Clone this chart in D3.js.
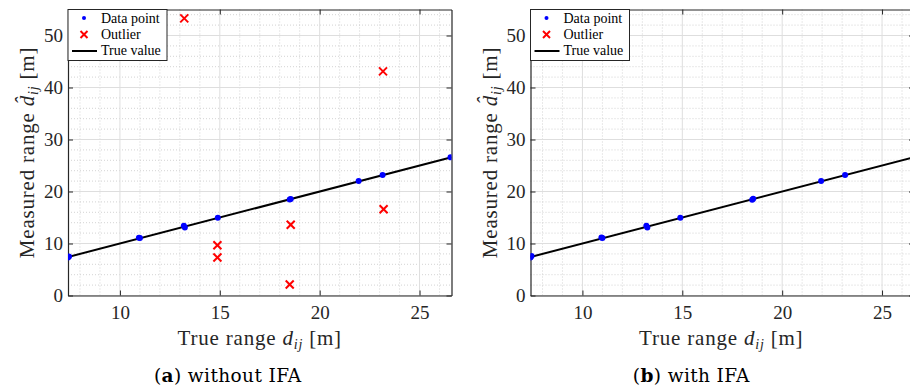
<!DOCTYPE html>
<html>
<head>
<script src="https://d3js.org/d3.v7.min.js"></script>
<style>
  body { margin: 0; background: #fff; }
  .tick-label { font-family: "Liberation Serif", serif; font-size: 19px; fill: #262626; }
  .axis-label { font-family: "Liberation Serif", serif; font-size: 21px; letter-spacing: 0.8px; fill: #262626; }
  .legend-text { font-family: "Liberation Serif", serif; font-size: 14px; fill: #000; }
  .caption { font-family: "DejaVu Serif", serif; font-size: 18.5px; letter-spacing: 0.4px; fill: #000; }
</style>
</head>
<body>
<div id="chart"></div>
<script>
// panel (a): without IFA
var inlierTrueA = [7.45, 7.40, 11.0, 10.95, 13.25, 13.2, 14.9, 18.5, 18.55, 21.95, 23.15, 26.55];
var inlierMeasA = [7.5, 7.3, 11.05, 11.1, 13.1, 13.4, 14.95, 18.45, 18.55, 22.0, 23.15, 26.6];
var outlierTrueA = [13.22, 23.17, 23.2, 18.55, 14.88, 14.88, 18.5];
var outlierMeasA = [53.3, 43.1, 16.6, 13.6, 9.65, 7.3, 2.1];

// panel (b): with IFA
var inlierTrueB = [7.45, 7.40, 11.0, 10.95, 13.25, 13.2, 14.9, 18.5, 18.55, 21.95, 23.15];
var inlierMeasB = [7.6, 7.3, 11.05, 11.15, 13.1, 13.4, 14.95, 18.4, 18.6, 22.0, 23.15];
var outlierTrueB = [];
var outlierMeasB = [];

var trueLine = [7.4, 26.6];
var xTicks = [10, 15, 20, 25];
var yTicks = [0, 10, 20, 30, 40, 50];
var xMinor = d3.range(8, 27, 1);
var yMinor = d3.range(2, 55, 2);
var legendLabels = ["Data point", "Outlier", "True value"];
var captions = [["a", " without IFA"], ["b", " with IFA"]];

var W = 910, H = 390;
var svg = d3.select("#chart").append("svg")
    .attr("width", W).attr("height", H);

function drawPanel(left, right, idx, inT, inM, outT, outM) {
    var top = 9.5, bottom = 295.5;
    var x = d3.scaleLinear().domain([7.4, 26.6]).range([left, right]);
    var y = d3.scaleLinear().domain([0, 55]).range([bottom, top]);
    var g = svg.append("g");
    var clipId = "clip" + idx;
    g.append("clipPath").attr("id", clipId).append("rect")
        .attr("x", left).attr("y", top).attr("width", right - left).attr("height", bottom - top);

    // minor grid (dotted)
    g.selectAll(".xminor").data(xMinor.filter(v => xTicks.indexOf(v) < 0)).enter().append("line")
        .attr("x1", d => x(d)).attr("x2", d => x(d)).attr("y1", top).attr("y2", bottom)
        .attr("stroke", "#c8c8c8").attr("stroke-width", 0.8).attr("stroke-dasharray", "1,2");
    g.selectAll(".yminor").data(yMinor.filter(v => yTicks.indexOf(v) < 0)).enter().append("line")
        .attr("y1", d => y(d)).attr("y2", d => y(d)).attr("x1", left).attr("x2", right)
        .attr("stroke", "#c8c8c8").attr("stroke-width", 0.8).attr("stroke-dasharray", "1,2");
    // major grid
    g.selectAll(".xmajor").data(xTicks).enter().append("line")
        .attr("x1", d => x(d)).attr("x2", d => x(d)).attr("y1", top).attr("y2", bottom)
        .attr("stroke", "#dedede").attr("stroke-width", 1);
    g.selectAll(".ymajor").data(yTicks).enter().append("line")
        .attr("y1", d => y(d)).attr("y2", d => y(d)).attr("x1", left).attr("x2", right)
        .attr("stroke", "#dedede").attr("stroke-width", 1);

    // axes with inward ticks
    var xAx = d3.axisBottom(x).tickValues(xTicks).tickSizeInner(-5).tickSizeOuter(0).tickPadding(10);
    var yAx = d3.axisLeft(y).tickValues(yTicks).tickSizeInner(-5).tickSizeOuter(0).tickPadding(5);
    var xg = g.append("g").attr("transform", "translate(0," + bottom + ")").call(xAx);
    var yg = g.append("g").attr("transform", "translate(" + left + ",0)").call(yAx);
    var xt = g.append("g").attr("transform", "translate(0," + top + ")")
        .call(d3.axisTop(x).tickValues(xTicks).tickSizeInner(-5).tickSizeOuter(0).tickFormat(""));
    var yr = g.append("g").attr("transform", "translate(" + right + ",0)")
        .call(d3.axisRight(y).tickValues(yTicks).tickSizeInner(-5).tickSizeOuter(0).tickFormat(""));
    [xg, yg, xt, yr].forEach(a => {
        a.select(".domain").attr("stroke", "#262626").attr("stroke-width", 1.2);
        a.selectAll(".tick line").attr("stroke", "#262626");
        a.selectAll(".tick text").attr("class", "tick-label").attr("font-family", null).attr("font-size", null);
    });

    var plot = g.append("g").attr("clip-path", "url(#" + clipId + ")");
    // true value line
    plot.append("line")
        .attr("x1", x(trueLine[0])).attr("y1", y(trueLine[0]))
        .attr("x2", x(trueLine[1])).attr("y2", y(trueLine[1]))
        .attr("stroke", "#000").attr("stroke-width", 2);

    var pts = inT.map((v, i) => [v, inM[i]]);
    plot.selectAll(".pt").data(pts).enter().append("circle")
        .attr("cx", d => x(d[0])).attr("cy", d => y(d[1])).attr("r", 3)
        .attr("fill", "#0000ff");

    var outs = outT.map((v, i) => [v, outM[i]]);
    var s = 4;
    var cross = plot.selectAll(".out").data(outs).enter().append("g")
        .attr("transform", d => "translate(" + x(d[0]) + "," + y(d[1]) + ")");
    cross.append("line").attr("x1", -s).attr("y1", -s).attr("x2", s).attr("y2", s)
        .attr("stroke", "#ff0000").attr("stroke-width", 2);
    cross.append("line").attr("x1", -s).attr("y1", s).attr("x2", s).attr("y2", -s)
        .attr("stroke", "#ff0000").attr("stroke-width", 2);

    // legend
    var lg = g.append("g").attr("transform", "translate(" + left + "," + top + ")");
    lg.append("rect").attr("x", 0).attr("y", 0).attr("width", 99).attr("height", 51)
        .attr("fill", "#fff").attr("stroke", "#262626").attr("stroke-width", 1);
    lg.append("circle").attr("cx", 16).attr("cy", 8.5).attr("r", 2).attr("fill", "#0000ff");
    lg.append("line").attr("x1", 12.5).attr("y1", 21.5).attr("x2", 19.5).attr("y2", 28.5)
        .attr("stroke", "#ff0000").attr("stroke-width", 2);
    lg.append("line").attr("x1", 12.5).attr("y1", 28.5).attr("x2", 19.5).attr("y2", 21.5)
        .attr("stroke", "#ff0000").attr("stroke-width", 2);
    lg.append("line").attr("x1", 4).attr("y1", 41.5).attr("x2", 29).attr("y2", 41.5)
        .attr("stroke", "#000").attr("stroke-width", 2);
    lg.selectAll(".lt").data(legendLabels).enter().append("text")
        .attr("class", "legend-text")
        .attr("x", 33).attr("y", (d, i) => 13 + i * 16.3)
        .text(d => d);

    // x label
    var xl = g.append("text").attr("class", "axis-label")
        .attr("x", (left + Math.min(right, W)) / 2 + (idx ? 1 : 0)).attr("y", 345)
        .attr("text-anchor", "middle");
    xl.append("tspan").text("True range ");
    xl.append("tspan").attr("font-style", "italic").text("d");
    xl.append("tspan").attr("font-style", "italic").attr("font-size", "14px").attr("dy", 4).text("ij");
    xl.append("tspan").attr("dy", -4).text(" [m]");

    // y label
    var yl = g.append("text").attr("class", "axis-label")
        .attr("transform", "translate(" + (left - 34) + "," + ((top + bottom) / 2) + ") rotate(-90)")
        .attr("text-anchor", "middle");
    yl.append("tspan").text("Measured range ");
    yl.append("tspan").attr("font-style", "italic").text("d\u0302");
    yl.append("tspan").attr("font-style", "italic").attr("font-size", "14px").attr("dy", 4).text("ij");
    yl.append("tspan").attr("dy", -4).text(" [m]");

    // caption
    var cap = svg.append("text").attr("class", "caption")
        .attr("x", (left + Math.min(right, W)) / 2 - (idx ? 29 : 32)).attr("y", 382)
        .attr("text-anchor", "middle");
    cap.append("tspan").text("(");
    cap.append("tspan").attr("font-weight", "bold").text(captions[idx][0]);
    cap.append("tspan").text(")");
    cap.append("tspan").text(captions[idx][1]);
}

drawPanel(68, 451.5, 0, inlierTrueA, inlierMeasA, outlierTrueA, outlierMeasA);
drawPanel(530.5, 914, 1, inlierTrueB, inlierMeasB, outlierTrueB, outlierMeasB);
</script>
</body>
</html>
